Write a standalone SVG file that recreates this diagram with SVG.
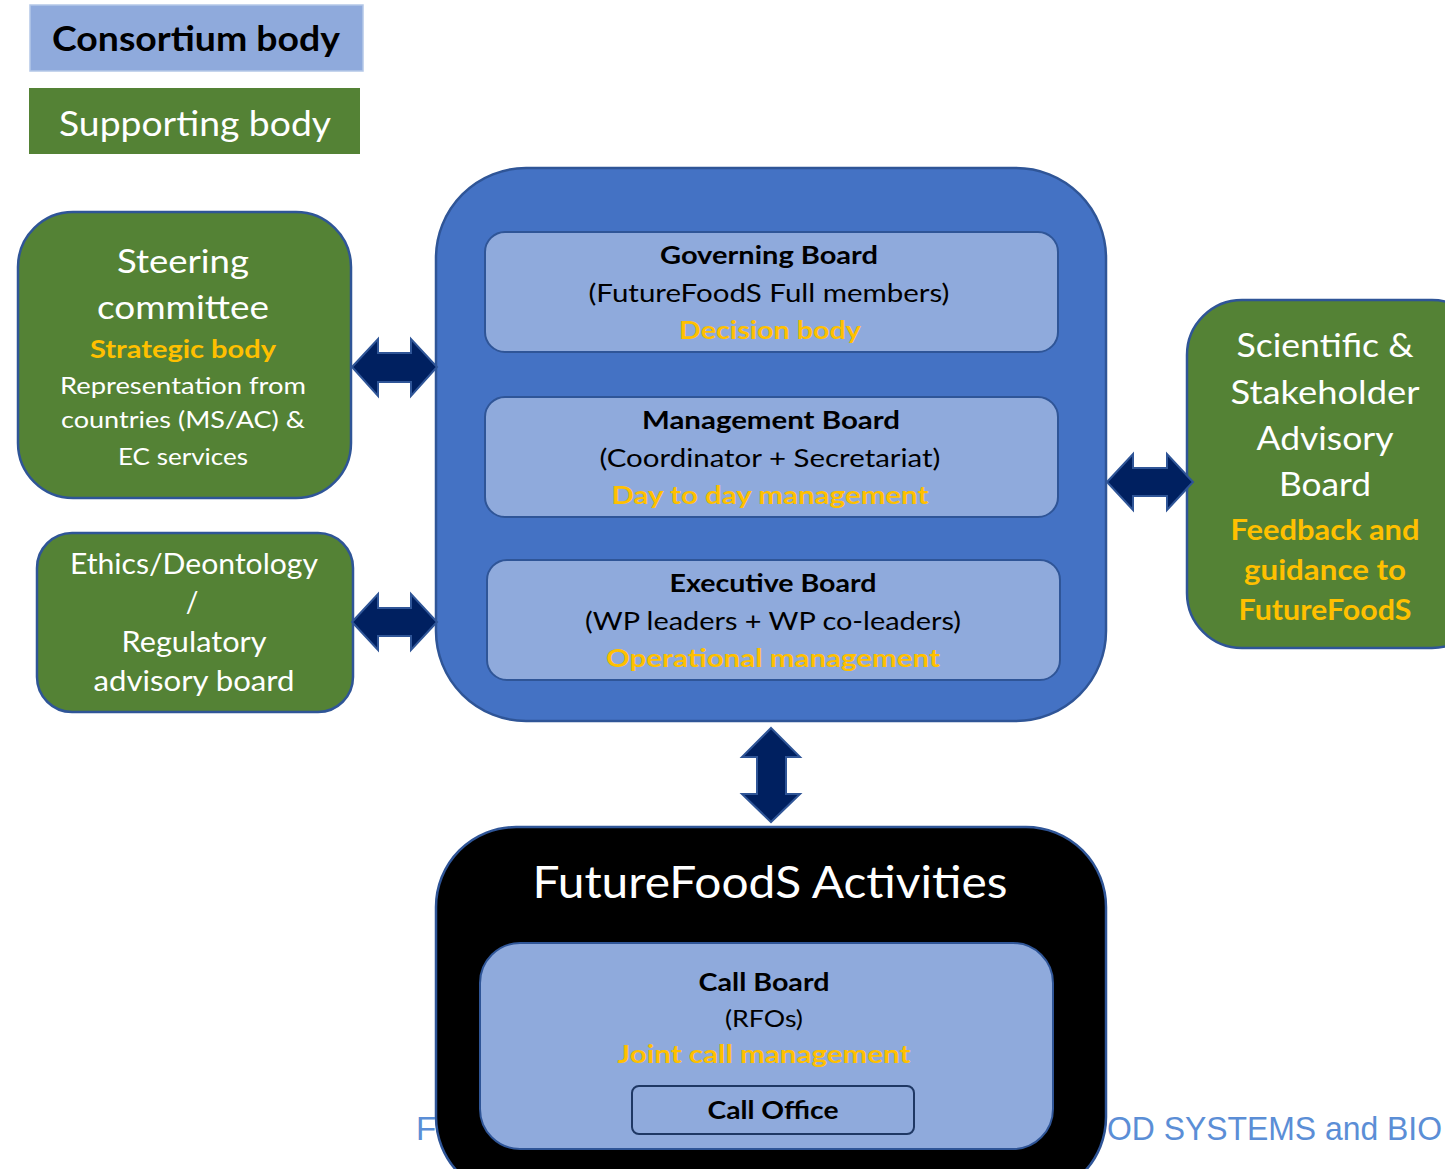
<svg xmlns="http://www.w3.org/2000/svg" width="1445" height="1169" viewBox="0 0 1445 1169">
<style>
text{font-family:Lato,"Open Sans","Liberation Sans",sans-serif;text-anchor:middle}
.w{fill:#ffffff}
.k{fill:#000000}
.g{fill:#ffc000;font-weight:bold}
.b{font-weight:bold}
.green{fill:#548235;stroke:#2f5597;stroke-width:2.5}
.inner{fill:#8faadc;stroke:#2f5597;stroke-width:2}
.arr{fill:#002060;stroke:#2f5597;stroke-width:2;stroke-linejoin:miter}
.foot{font-family:"Liberation Sans",Arial,sans-serif;fill:#5b8ed6;font-size:33px;text-anchor:start}
</style>
<rect width="1445" height="1169" fill="#ffffff"/>

<g id="footer">
<text class="foot" x="416" y="1140">F</text>
<text class="foot" x="1107" y="1140" textLength="335" lengthAdjust="spacingAndGlyphs">OD SYSTEMS and BIO</text>
</g>

<g id="legend-consortium">
<rect x="30" y="5" width="333" height="66" fill="#8faadc" stroke="#b4c7e7" stroke-width="1.5"/>
<text class="k b" x="196" y="51" font-size="34" textLength="288" lengthAdjust="spacingAndGlyphs">Consortium body</text>
</g>
<g id="legend-supporting">
<rect x="29" y="88" width="331" height="66" fill="#548235"/>
<text class="w" x="195" y="136" font-size="34" textLength="272" lengthAdjust="spacingAndGlyphs">Supporting body</text>
</g>

<g id="steering-committee">
<rect class="green" x="18" y="212" width="333" height="286" rx="55"/>
<text class="w" x="183" y="273" font-size="32" textLength="132" lengthAdjust="spacingAndGlyphs">Steering</text>
<text class="w" x="183" y="319" font-size="32" textLength="172" lengthAdjust="spacingAndGlyphs">committee</text>
<text class="g" x="183" y="358" font-size="25" textLength="186" lengthAdjust="spacingAndGlyphs">Strategic body</text>
<text class="w" x="183" y="394" font-size="23" textLength="246" lengthAdjust="spacingAndGlyphs">Representation from</text>
<text class="w" x="183" y="428" font-size="23" textLength="244" lengthAdjust="spacingAndGlyphs">countries (MS/AC) &amp;</text>
<text class="w" x="183" y="465" font-size="23" textLength="130" lengthAdjust="spacingAndGlyphs">EC services</text>
</g>

<g id="ethics-board">
<rect class="green" x="37" y="533" width="316" height="179" rx="35"/>
<text class="w" x="194" y="574" font-size="28" textLength="248" lengthAdjust="spacingAndGlyphs">Ethics/Deontology</text>
<text class="w" x="192" y="612" font-size="28">/</text>
<text class="w" x="194" y="652" font-size="28" textLength="145" lengthAdjust="spacingAndGlyphs">Regulatory</text>
<text class="w" x="194" y="691" font-size="28" textLength="201" lengthAdjust="spacingAndGlyphs">advisory board</text>
</g>

<g id="consortium">
<rect x="436" y="168" width="670" height="553" rx="90" fill="#4472c4" stroke="#2f5597" stroke-width="2.5"/>
</g>

<g id="governing-board">
<rect class="inner" x="485" y="232" width="573" height="120" rx="20"/>
<text class="k b" x="769" y="264" font-size="25" textLength="218" lengthAdjust="spacingAndGlyphs">Governing Board</text>
<text class="k" x="769" y="302" font-size="25" textLength="361" lengthAdjust="spacingAndGlyphs">(FutureFoodS Full members)</text>
<text class="g" x="770" y="339" font-size="25" textLength="182" lengthAdjust="spacingAndGlyphs">Decision body</text>
</g>

<g id="management-board">
<rect class="inner" x="485" y="397" width="573" height="120" rx="20"/>
<text class="k b" x="771" y="429" font-size="25" textLength="258" lengthAdjust="spacingAndGlyphs">Management Board</text>
<text class="k" x="770" y="467" font-size="25" textLength="341" lengthAdjust="spacingAndGlyphs">(Coordinator + Secretariat)</text>
<text class="g" x="770" y="504" font-size="25" textLength="317" lengthAdjust="spacingAndGlyphs">Day to day management</text>
</g>

<g id="executive-board">
<rect class="inner" x="487" y="560" width="573" height="120" rx="20"/>
<text class="k b" x="773" y="592" font-size="25" textLength="207" lengthAdjust="spacingAndGlyphs">Executive Board</text>
<text class="k" x="773" y="630" font-size="25" textLength="376" lengthAdjust="spacingAndGlyphs">(WP leaders + WP co-leaders)</text>
<text class="g" x="773" y="667" font-size="25" textLength="334" lengthAdjust="spacingAndGlyphs">Operational management</text>
</g>

<g id="advisory-board">
<rect class="green" x="1187" y="300" width="300" height="348" rx="55"/>
<text class="w" x="1325" y="357" font-size="32" textLength="177" lengthAdjust="spacingAndGlyphs">Scientific &amp;</text>
<text class="w" x="1325" y="404" font-size="32" textLength="189" lengthAdjust="spacingAndGlyphs">Stakeholder</text>
<text class="w" x="1325" y="450" font-size="32" textLength="137" lengthAdjust="spacingAndGlyphs">Advisory</text>
<text class="w" x="1325" y="496" font-size="32" textLength="92" lengthAdjust="spacingAndGlyphs">Board</text>
<text class="g" x="1325" y="540" font-size="28" textLength="189" lengthAdjust="spacingAndGlyphs">Feedback and</text>
<text class="g" x="1325" y="580" font-size="28" textLength="162" lengthAdjust="spacingAndGlyphs">guidance to</text>
<text class="g" x="1325" y="620" font-size="28" textLength="173" lengthAdjust="spacingAndGlyphs">FutureFoodS</text>
</g>

<g id="activities">
<rect x="436" y="827" width="670" height="370" rx="80" fill="#000000" stroke="#2f5597" stroke-width="2.5"/>
<text class="w" x="770" y="898" font-size="45" textLength="475" lengthAdjust="spacingAndGlyphs">FutureFoodS Activities</text>
</g>

<g id="call-board">
<rect class="inner" x="480" y="943" width="573" height="206" rx="40"/>
<text class="k b" x="764" y="991" font-size="25" textLength="131" lengthAdjust="spacingAndGlyphs">Call Board</text>
<text class="k" x="764" y="1027" font-size="23" textLength="78" lengthAdjust="spacingAndGlyphs">(RFOs)</text>
<text class="g" x="764" y="1063" font-size="25" textLength="293" lengthAdjust="spacingAndGlyphs">Joint call management</text>
</g>

<g id="call-office">
<rect x="632" y="1086" width="282" height="48" rx="7" fill="#8faadc" stroke="#1f3864" stroke-width="2"/>
<text class="k b" x="773" y="1119" font-size="25" textLength="131" lengthAdjust="spacingAndGlyphs">Call Office</text>
</g>

<g id="connectors">
<polygon class="arr" points="352,367 378,339 378,353 411,353 411,339 437,367 411,396 411,382 378,382 378,396"/>
<polygon class="arr" points="352,622 378,594 378,608 411,608 411,594 437,622 411,650 411,636 378,636 378,650"/>
<polygon class="arr" points="1107,482 1133,454 1133,468 1167,468 1167,454 1193,482 1167,510 1167,496 1133,496 1133,510"/>
<polygon class="arr" points="771,728 800,757 786,757 786,794 800,794 771,822 742,794 757,794 757,757 742,757"/>
</g>
</svg>
